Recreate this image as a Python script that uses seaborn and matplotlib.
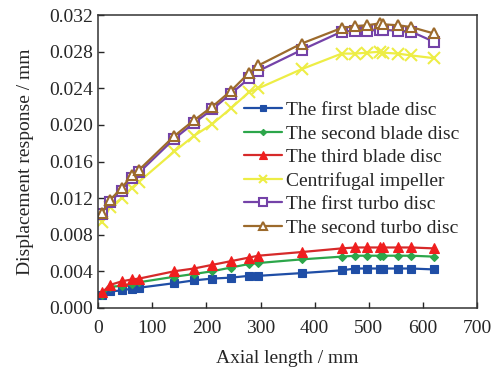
import numpy as np
import pandas as pd
import matplotlib
matplotlib.use("Agg")
import matplotlib.pyplot as plt
import seaborn as sns

# axial positions (mm)
axial = [8, 22, 44, 62, 76, 141, 177, 211, 245, 279, 296, 376,
         450, 475, 497, 520, 526, 553, 578, 620]

blade1 = [0.0014, 0.0018, 0.0019, 0.0021, 0.0022, 0.0027, 0.0030, 0.0032, 0.0033, 0.0035,
          0.0035, 0.0038, 0.0041, 0.0043, 0.0043, 0.0043, 0.0043, 0.0043, 0.0043, 0.0042]
blade2 = [0.0014, 0.0023, 0.0024, 0.0026, 0.0028, 0.0034, 0.0037, 0.0040, 0.0044, 0.0048,
          0.0049, 0.0053, 0.0056, 0.0057, 0.0057, 0.0057, 0.0057, 0.0057, 0.0057, 0.0056]
blade3 = [0.0017, 0.0025, 0.0029, 0.0031, 0.0032, 0.0040, 0.0043, 0.0047, 0.0051, 0.0055,
          0.0057, 0.0061, 0.0065, 0.0066, 0.0066, 0.0066, 0.0066, 0.0066, 0.0066, 0.0065]
impeller = [0.0094, 0.0110, 0.0120, 0.0131, 0.0138, 0.0171, 0.0188, 0.0201, 0.0218, 0.0236,
            0.0240, 0.0261, 0.0278, 0.0278, 0.0279, 0.0280, 0.0279, 0.0278, 0.0276, 0.0273]
turbo1 = [0.0103, 0.0116, 0.0128, 0.0142, 0.0148, 0.0185, 0.0202, 0.0217, 0.0234, 0.0251,
          0.0259, 0.0282, 0.0302, 0.0303, 0.0303, 0.0304, 0.0304, 0.0303, 0.0302, 0.0291]
turbo2 = [0.0104, 0.0118, 0.0131, 0.0145, 0.0151, 0.0188, 0.0205, 0.0220, 0.0237, 0.0257,
          0.0265, 0.0289, 0.0306, 0.0308, 0.0309, 0.0311, 0.0310, 0.0309, 0.0307, 0.0300]

labels = ["The first blade disc", "The second blade disc", "The third blade disc",
          "Centrifugal impeller", "The first turbo disc", "The second turbo disc"]
series = [blade1, blade2, blade3, impeller, turbo1, turbo2]

# (line colour, marker, marker face, marker edge, marker size, edge width)
styles = [
    ("#1f4ea6", "s", "#1f4ea6", "#1f4ea6", 6, 0.8),
    ("#2ca64a", "D", "#2ca64a", "#2ca64a", 4, 0.8),
    ("#d62a2a", "^", "#f01e1e", "#f01e1e", 6.5, 0.8),
    ("#eded45", "x", "#eded45", "#eded45", 8, 1.5),
    ("#7442a8", "s", "white", "#7442a8", 7.5, 1.5),
    ("#9c6a2c", "^", "white", "#9c6a2c", 7.5, 1.5),
]

sns.set_style("ticks")
plt.rcParams["font.family"] = ["Liberation Serif", "DejaVu Serif"]
plt.rcParams["xtick.direction"] = "in"
plt.rcParams["ytick.direction"] = "in"

fig, ax = plt.subplots(figsize=(4.95, 3.70), dpi=100)
fig.subplots_adjust(left=0.198, right=0.964, top=0.959, bottom=0.168)

for lab, vals, (lc, mk, mfc, mec, ms, mew) in zip(labels, series, styles):
    df = pd.DataFrame({"x": axial, "y": vals})
    sns.lineplot(data=df, x="x", y="y", ax=ax, color=lc, linewidth=1.6,
                 marker=mk, markersize=ms, markerfacecolor=mfc,
                 markeredgecolor=mec, markeredgewidth=mew,
                 label=lab, sort=False)

ax.set_xlim(0, 700)
ax.set_ylim(0, 0.032)
ax.set_xticks(np.arange(0, 701, 100))
ax.set_yticks(np.arange(0, 0.0321, 0.004))
ax.set_yticklabels([f"{v:.3f}" for v in np.arange(0, 0.0321, 0.004)])
ax.tick_params(labelsize=14, length=4, width=1, top=False, right=False)
ax.tick_params(axis="x", pad=9)
ax.set_xlabel("Axial length / mm", fontsize=14, labelpad=9)
ax.set_ylabel("Displacement response / mm", fontsize=14, labelpad=11)
for sp in ax.spines.values():
    sp.set_visible(True)
    sp.set_linewidth(1.1)
    sp.set_color("#333333")

ax.legend(loc="upper left", bbox_to_anchor=(0.385, 0.705), frameon=False,
          fontsize=14, handlelength=1.95, handletextpad=0.2,
          labelspacing=0.3, borderaxespad=0.0, borderpad=0.0,
          markerscale=0.8)

fig.savefig("out.png", dpi=100)
